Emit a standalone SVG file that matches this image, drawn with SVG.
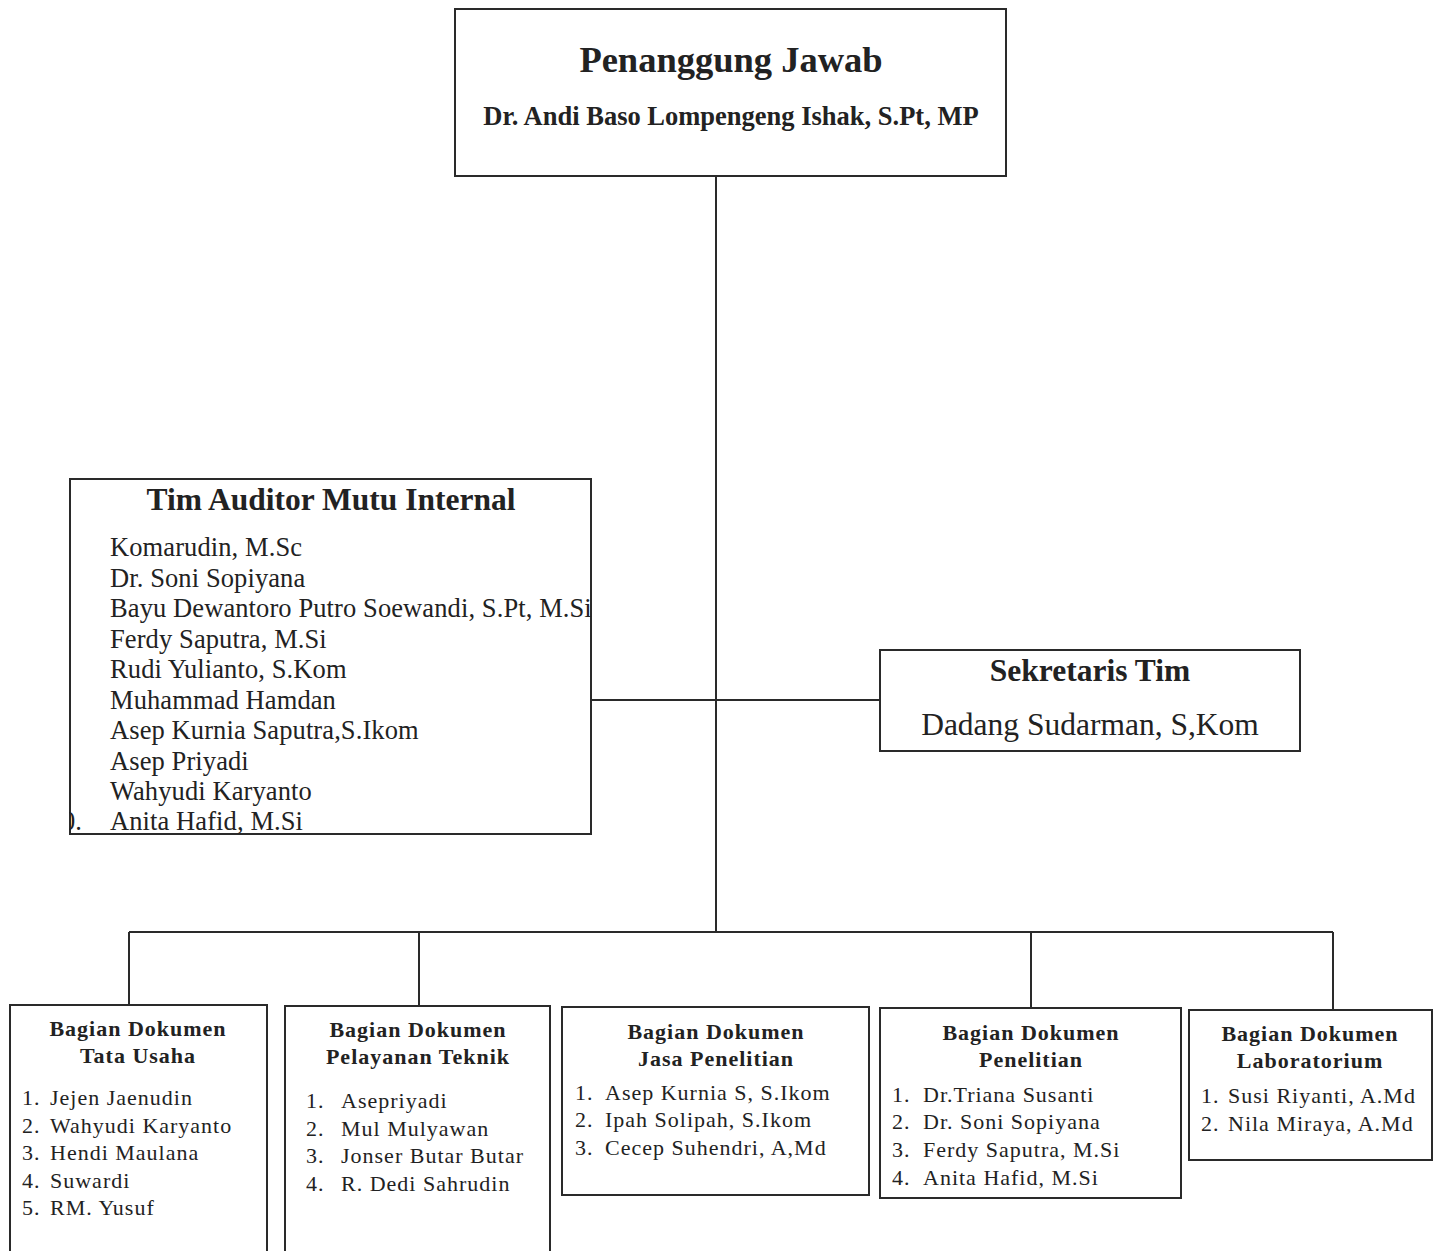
<svg xmlns="http://www.w3.org/2000/svg" width="1442" height="1251" viewBox="0 0 1442 1251">
<style>
.box{fill:#fff;stroke:#2a2a2a;stroke-width:2}
.ln{stroke:#2a2a2a;stroke-width:2;fill:none}
text{font-family:"Liberation Serif","Times New Roman",serif;fill:#222}
.b{font-weight:bold}
.mid{text-anchor:middle}
.aud{font-size:26.5px;letter-spacing:0.1px}
.bt{font-size:22px;font-weight:bold;letter-spacing:1px;text-anchor:middle}
.it{font-size:22px;letter-spacing:1px}
</style>
<defs><clipPath id="audclip"><rect x="69" y="470" width="540" height="380"/></clipPath></defs>
<rect width="1442" height="1251" fill="#fff"/>
<g id="connectors">
<line class="ln" x1="716" y1="176" x2="716" y2="932"/>
<line class="ln" x1="587" y1="700" x2="880" y2="700"/>
<line class="ln" x1="129" y1="932" x2="1333" y2="932"/>
<line class="ln" x1="129" y1="932" x2="129" y2="1005"/>
<line class="ln" x1="419" y1="932" x2="419" y2="1006"/>
<line class="ln" x1="1031" y1="932" x2="1031" y2="1008"/>
<line class="ln" x1="1333" y1="932" x2="1333" y2="1010"/>
</g>
<g id="penanggung-jawab">
<rect class="box" x="455" y="9" width="551" height="167"/>
<text class="b mid" x="731" y="72" font-size="36.5">Penanggung Jawab</text>
<text class="b mid" x="731" y="125" font-size="26.5">Dr. Andi Baso Lompengeng Ishak, S.Pt, MP</text>
</g>
<g id="tim-auditor">
<rect class="box" x="70" y="479" width="521" height="355"/>
<text class="b mid" x="331" y="510" font-size="31.5">Tim Auditor Mutu Internal</text>
<g class="aud">
<text x="110" y="556">Komarudin, M.Sc</text>
<text x="110" y="587">Dr. Soni Sopiyana</text>
<text x="110" y="617">Bayu Dewantoro Putro Soewandi, S.Pt, M.Si</text>
<text x="110" y="648">Ferdy Saputra, M.Si</text>
<text x="110" y="678">Rudi Yulianto, S.Kom</text>
<text x="110" y="709">Muhammad Hamdan</text>
<text x="110" y="739">Asep Kurnia Saputra,S.Ikom</text>
<text x="110" y="770">Asep Priyadi</text>
<text x="110" y="800">Wahyudi Karyanto</text>
<text x="62" y="830" clip-path="url(#audclip)">0.</text>
<text x="110" y="830">Anita Hafid, M.Si</text>
</g>
</g>
<g id="sekretaris">
<rect class="box" x="880" y="650" width="420" height="101"/>
<text class="b mid" x="1090" y="681" font-size="31.5">Sekretaris Tim</text>
<text class="mid" x="1090" y="735" font-size="31.5">Dadang Sudarman, S,Kom</text>
</g>
<g id="tata-usaha">
<rect class="box" x="10" y="1005" width="257" height="250"/>
<text class="bt" x="138" y="1036">Bagian Dokumen</text>
<text class="bt" x="138" y="1063">Tata Usaha</text>
<g class="it">
<text x="22" y="1105">1.</text><text x="50" y="1105">Jejen Jaenudin</text>
<text x="22" y="1133">2.</text><text x="50" y="1133">Wahyudi Karyanto</text>
<text x="22" y="1160">3.</text><text x="50" y="1160">Hendi Maulana</text>
<text x="22" y="1188">4.</text><text x="50" y="1188">Suwardi</text>
<text x="22" y="1215">5.</text><text x="50" y="1215">RM. Yusuf</text>
</g>
</g>
<g id="pelayanan-teknik">
<rect class="box" x="285" y="1006" width="265" height="250"/>
<text class="bt" x="418" y="1037">Bagian Dokumen</text>
<text class="bt" x="418" y="1064">Pelayanan Teknik</text>
<g class="it">
<text x="306" y="1108">1.</text><text x="341" y="1108">Asepriyadi</text>
<text x="306" y="1136">2.</text><text x="341" y="1136">Mul Mulyawan</text>
<text x="306" y="1163">3.</text><text x="341" y="1163">Jonser Butar Butar</text>
<text x="306" y="1191">4.</text><text x="341" y="1191">R. Dedi Sahrudin</text>
</g>
</g>
<g id="jasa-penelitian">
<rect class="box" x="562" y="1007" width="307" height="188"/>
<text class="bt" x="716" y="1039">Bagian Dokumen</text>
<text class="bt" x="716" y="1066">Jasa Penelitian</text>
<g class="it">
<text x="575" y="1100">1.</text><text x="605" y="1100">Asep Kurnia S, S.Ikom</text>
<text x="575" y="1127">2.</text><text x="605" y="1127">Ipah Solipah, S.Ikom</text>
<text x="575" y="1155">3.</text><text x="605" y="1155">Cecep Suhendri, A,Md</text>
</g>
</g>
<g id="penelitian">
<rect class="box" x="880" y="1008" width="301" height="190"/>
<text class="bt" x="1031" y="1040">Bagian Dokumen</text>
<text class="bt" x="1031" y="1067">Penelitian</text>
<g class="it">
<text x="892" y="1102">1.</text><text x="923" y="1102">Dr.Triana Susanti</text>
<text x="892" y="1129">2.</text><text x="923" y="1129">Dr. Soni Sopiyana</text>
<text x="892" y="1157">3.</text><text x="923" y="1157">Ferdy Saputra, M.Si</text>
<text x="892" y="1185">4.</text><text x="923" y="1185">Anita Hafid, M.Si</text>
</g>
</g>
<g id="laboratorium">
<rect class="box" x="1189" y="1010" width="243" height="150"/>
<text class="bt" x="1310" y="1041">Bagian Dokumen</text>
<text class="bt" x="1310" y="1068">Laboratorium</text>
<g class="it">
<text x="1201" y="1103">1.</text><text x="1228" y="1103">Susi Riyanti, A.Md</text>
<text x="1201" y="1131">2.</text><text x="1228" y="1131">Nila Miraya, A.Md</text>
</g>
</g>
</svg>
